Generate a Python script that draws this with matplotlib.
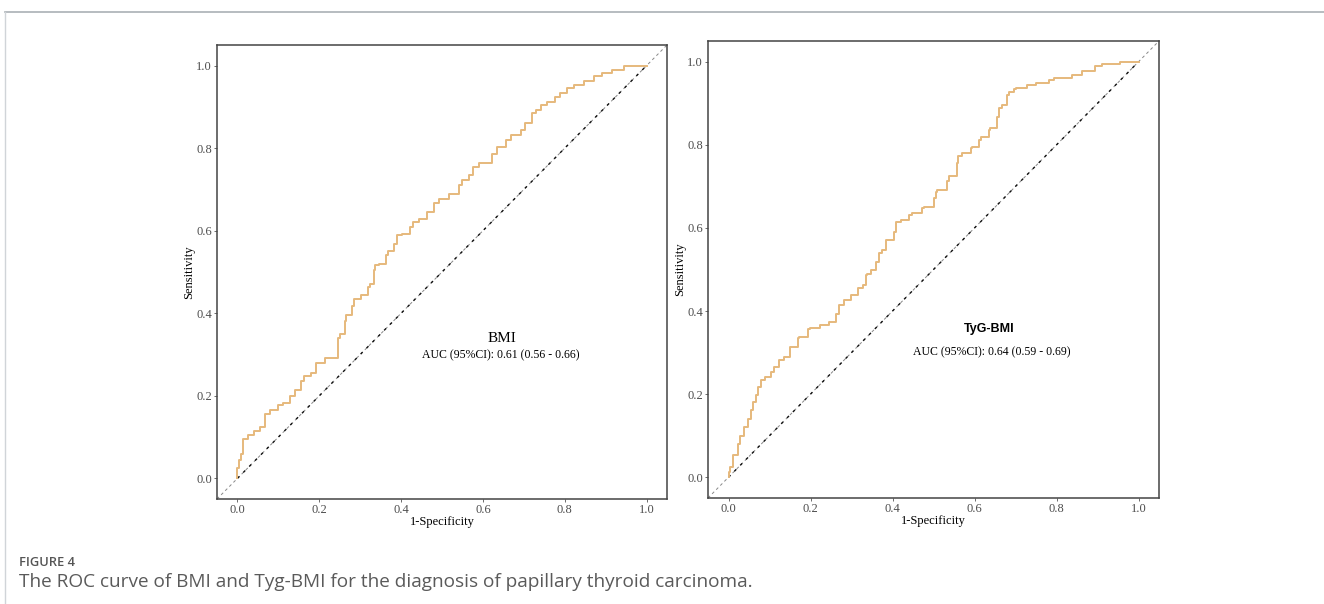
import matplotlib
matplotlib.use("Agg")
import matplotlib.pyplot as plt
from matplotlib.lines import Line2D

# ROC vertices (1-specificity, sensitivity)
bmi_fpr = [0.000, 0.003, 0.008, 0.013, 0.025, 0.040, 0.055, 0.068, 0.080, 0.100,
           0.112, 0.128, 0.140, 0.155, 0.163, 0.180, 0.192, 0.193, 0.215, 0.245,
           0.250, 0.262, 0.266, 0.280, 0.286, 0.302, 0.320, 0.324, 0.334, 0.335,
           0.346, 0.362, 0.368, 0.382, 0.391, 0.403, 0.422, 0.428, 0.444, 0.463,
           0.480, 0.493, 0.517, 0.541, 0.550, 0.566, 0.575, 0.590, 0.623, 0.635,
           0.656, 0.668, 0.692, 0.704, 0.720, 0.729, 0.741, 0.757, 0.777, 0.789,
           0.806, 0.822, 0.846, 0.871, 0.891, 0.915, 0.944, 0.948, 1.000]
bmi_tpr = [0.000, 0.025, 0.045, 0.060, 0.095, 0.105, 0.115, 0.125, 0.155, 0.165,
           0.178, 0.183, 0.200, 0.215, 0.236, 0.248, 0.255, 0.275, 0.280, 0.292,
           0.340, 0.350, 0.382, 0.395, 0.418, 0.435, 0.445, 0.463, 0.470, 0.504,
           0.516, 0.520, 0.540, 0.550, 0.569, 0.589, 0.593, 0.609, 0.621, 0.629,
           0.646, 0.666, 0.678, 0.690, 0.710, 0.722, 0.735, 0.755, 0.763, 0.787,
           0.803, 0.820, 0.832, 0.845, 0.861, 0.885, 0.893, 0.905, 0.913, 0.925,
           0.933, 0.946, 0.954, 0.962, 0.974, 0.982, 0.990, 1.000, 1.000]

tyg_fpr = [0.000, 0.003, 0.011, 0.023, 0.027, 0.039, 0.047, 0.055, 0.059, 0.066,
           0.071, 0.080, 0.088, 0.104, 0.112, 0.124, 0.136, 0.149, 0.150, 0.169,
           0.173, 0.193, 0.199, 0.222, 0.246, 0.262, 0.270, 0.282, 0.298, 0.315,
           0.327, 0.335, 0.339, 0.347, 0.359, 0.367, 0.375, 0.383, 0.404, 0.408,
           0.420, 0.440, 0.448, 0.473, 0.477, 0.501, 0.505, 0.509, 0.534, 0.538,
           0.558, 0.559, 0.570, 0.591, 0.595, 0.611, 0.615, 0.635, 0.639, 0.655,
           0.659, 0.667, 0.679, 0.684, 0.696, 0.700, 0.728, 0.749, 0.781, 0.793,
           0.837, 0.862, 0.895, 0.911, 0.955, 0.963, 1.000]
tyg_tpr = [0.000, 0.013, 0.025, 0.053, 0.081, 0.100, 0.121, 0.141, 0.161, 0.181,
           0.197, 0.218, 0.234, 0.242, 0.254, 0.266, 0.282, 0.290, 0.312, 0.314,
           0.334, 0.338, 0.356, 0.360, 0.366, 0.374, 0.394, 0.414, 0.426, 0.438,
           0.455, 0.463, 0.487, 0.490, 0.499, 0.519, 0.539, 0.547, 0.571, 0.591,
           0.615, 0.619, 0.631, 0.635, 0.647, 0.651, 0.671, 0.687, 0.691, 0.712,
           0.724, 0.756, 0.772, 0.780, 0.792, 0.796, 0.812, 0.820, 0.836, 0.840,
           0.868, 0.888, 0.896, 0.920, 0.928, 0.934, 0.937, 0.945, 0.950, 0.955,
           0.961, 0.969, 0.977, 0.990, 0.995, 1.000, 1.000]

ticks = [0.0, 0.2, 0.4, 0.6, 0.8, 1.0]
tick_labels = ["0.0", "0.2", "0.4", "0.6", "0.8", "1.0"]

SERIF = ["Liberation Serif", "DejaVu Serif"]
CURVE = "#e6b97c"

fig = plt.figure(figsize=(13.24, 6.04), dpi=100)


def roc_panel(rect, fpr, tpr, title, auc_text, title_font, title_pos, auc_pos):
    ax = fig.add_axes(rect)
    ax.plot([-0.05, 1.05], [-0.05, 1.05], ls=(0, (3, 3)), c="#888888", lw=0.7)
    ax.plot([0, 1], [0, 1], ls=(0, (2, 4)), c="#111111", lw=1.0)
    ax.plot(fpr, tpr, drawstyle="steps-pre", c=CURVE, lw=1.4)
    ax.set_xlim(-0.05, 1.05); ax.set_ylim(-0.05, 1.05)
    ax.set_xticks(ticks); ax.set_yticks(ticks)
    ax.set_xticklabels(tick_labels, family=SERIF, fontsize=9, color="#4d4d4d")
    ax.set_yticklabels(tick_labels, family=SERIF, fontsize=9, color="#4d4d4d")
    ax.tick_params(length=2.5, width=0.6, color="#555555", pad=1)
    for s in ax.spines.values():
        s.set_color("#444444"); s.set_linewidth(1.1)
    ax.set_xlabel("1-Specificity", family=SERIF, fontsize=9, labelpad=0)
    ax.set_ylabel("Sensitivity", family=SERIF, fontsize=9, labelpad=1)
    ax.text(title_pos[0], title_pos[1], title, ha="center", va="center", **title_font)
    ax.text(auc_pos[0], auc_pos[1], auc_text, ha="center", va="center",
            family=SERIF, fontsize=8.5)
    return ax


roc_panel([217 / 1324, 105 / 604, 450 / 1324, 454 / 604], bmi_fpr, bmi_tpr,
          "BMI", "AUC (95%CI): 0.61 (0.56 - 0.66)",
          dict(family=SERIF, fontsize=11), (0.646, 0.338), (0.643, 0.297))
roc_panel([708 / 1324, 106 / 604, 451 / 1324, 457 / 604], tyg_fpr, tyg_tpr,
          "TyG-BMI", "AUC (95%CI): 0.64 (0.59 - 0.69)",
          dict(family=["Liberation Sans", "DejaVu Sans"], fontsize=9, weight="bold"),
          (0.635, 0.356), (0.643, 0.300))

# page frame lines and caption
fig.add_artist(Line2D([5 / 1324, 1], [1 - 12 / 604, 1 - 12 / 604], c="#aab0b5", lw=1.2))
fig.add_artist(Line2D([5 / 1324, 5 / 1324], [0, 1 - 12 / 604], c="#d0d4d8", lw=1.0))
fig.text(19 / 1324, 1 - 562 / 604, "FIGURE 4", va="center", ha="left",
         family=["Open Sans", "DejaVu Sans"], fontsize=9.3, weight="semibold", color="#555555")
fig.text(19 / 1324, 1 - 582 / 604,
         "The ROC curve of BMI and Tyg-BMI for the diagnosis of papillary thyroid carcinoma.",
         va="center", ha="left", family=["Open Sans", "DejaVu Sans"], fontsize=13.7,
         color="#5a5a5a")

fig.savefig("out.png", dpi=100)
